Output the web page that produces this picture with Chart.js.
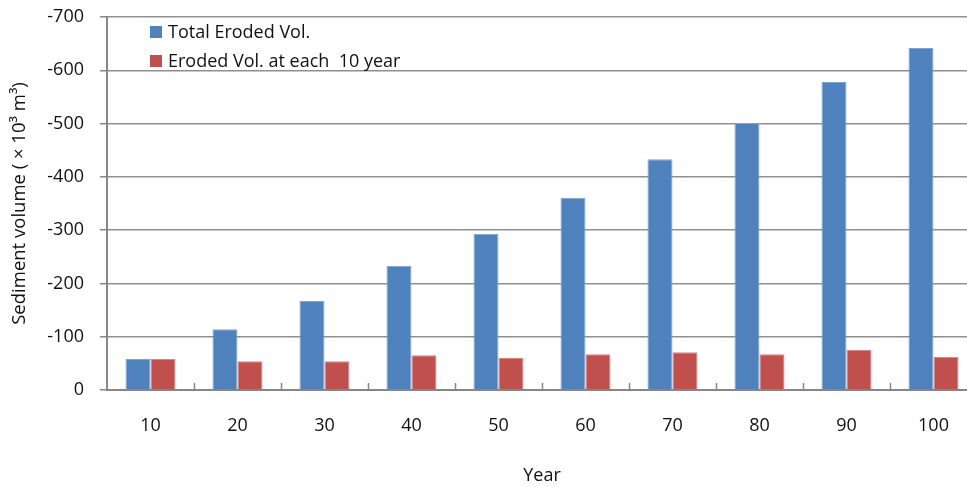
<!DOCTYPE html>
<html>
<head>
<meta charset="utf-8">
<script src="https://cdn.jsdelivr.net/npm/chart.js@4/dist/chart.umd.min.js"></script>
<style>
  html, body { margin: 0; padding: 0; background: #fff; overflow: hidden; }
  #wrap { width: 977px; height: 487px; position: relative; }
</style>
</head>
<body>
<div id="wrap"><canvas id="c"></canvas></div>
<script>
// Simulation years
const years = ['10', '20', '30', '40', '50', '60', '70', '80', '90', '100'];
// Cumulative eroded volume (x10^3 m^3, negative = erosion)
const totalEroded = [-58, -114, -167, -233, -293, -361, -433, -501, -578, -642];
// Volume eroded in each 10-year step
const stepEroded = [-58, -54, -54, -65, -60, -67, -71, -67, -75, -62];

const seriesNames = ['Total Eroded Vol.', 'Eroded Vol. at each  10 year'];
const FONT = '"Open Sans", "Noto Sans", sans-serif';
const AXIS_GRAY = '#878787';

// Legend drawn inside the plot area, top-left
const innerLegend = {
  id: 'innerLegend',
  afterDraw(chart) {
    const ctx = chart.ctx;
    const x0 = 150, rows = [32, 61];
    ctx.save();
    ctx.font = '18px ' + FONT;
    ctx.textBaseline = 'middle';
    ctx.textAlign = 'left';
    chart.data.datasets.forEach((ds, i) => {
      const y = rows[i];
      ctx.fillStyle = ds.backgroundColor;
      ctx.fillRect(x0, y - 6, 12, 12);
      ctx.fillStyle = '#111';
      ctx.fillText(ds.label, x0 + 18, y + 1);
    });
    ctx.restore();
  }
};

// Short inward tick marks between categories on the x axis
const innerTicks = {
  id: 'innerTicks',
  afterDatasetsDraw(chart) {
    const xs = chart.scales.x, ctx = chart.ctx;
    const bottom = chart.chartArea.bottom;
    ctx.save();
    ctx.strokeStyle = AXIS_GRAY;
    ctx.lineWidth = 1.5;
    for (let i = 0; i < years.length - 1; i++) {
      const px = Math.round((xs.getPixelForTick(i) + xs.getPixelForTick(i + 1)) / 2) + 0.5;
      ctx.beginPath();
      ctx.moveTo(px, bottom);
      ctx.lineTo(px, bottom - 7);
      ctx.stroke();
    }
    ctx.restore();
  }
};

new Chart(document.getElementById('c'), {
  type: 'bar',
  data: {
    labels: years,
    datasets: [
      {
        label: seriesNames[0],
        data: totalEroded,
        backgroundColor: '#4F81BD',
        borderColor: '#7FA3D2',
        borderWidth: 1
      },
      {
        label: seriesNames[1],
        data: stepEroded,
        backgroundColor: '#C0504D',
        borderColor: '#D88583',
        borderWidth: 1
      }
    ]
  },
  options: {
    responsive: true,
    maintainAspectRatio: false,
    animation: false,
    datasets: { bar: { categoryPercentage: 0.575, barPercentage: 1.0 } },
    layout: { padding: { top: 17, right: 0, left: 0, bottom: 0 } },
    plugins: {
      legend: { display: false },
      tooltip: { enabled: false }
    },
    scales: {
      x: {
        offset: true,
        grid: { display: false, drawTicks: false },
        border: { display: true, color: AXIS_GRAY, width: 2 },
        ticks: { color: '#111', font: { family: FONT, size: 18 }, padding: 25 },
        title: {
          display: true,
          text: 'Year',
          color: '#111',
          font: { family: FONT, size: 18 },
          padding: { top: 20, bottom: 0 }
        },
        afterFit(scale) { scale.height = 97; }
      },
      y: {
        reverse: true,
        min: -700,
        max: 0,
        ticks: {
          stepSize: 100,
          color: '#111',
          font: { family: FONT, size: 18 },
          padding: 16
        },
        grid: {
          color: '#8f8f8f',
          lineWidth: 1.5,
          tickLength: 7,
          tickColor: AXIS_GRAY
        },
        border: { display: true, color: AXIS_GRAY, width: 2 },
        title: {
          display: true,
          text: 'Sediment volume ( × 10³ m³)',
          color: '#111',
          font: { family: FONT, size: 18.5 },
          padding: { top: 9, bottom: 4 }
        },
        afterFit(scale) {
          scale.width = 107;
          scale.paddingTop = 0;
          scale.paddingBottom = 0;
        }
      }
    }
  },
  plugins: [innerLegend, innerTicks]
});
</script>
</body>
</html>
